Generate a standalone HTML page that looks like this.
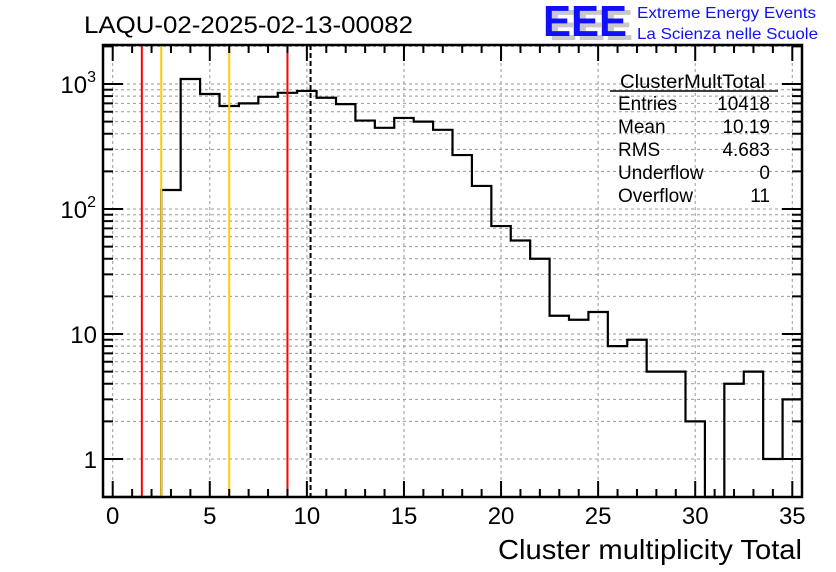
<!DOCTYPE html>
<html><head><meta charset="utf-8"><style>
html,body{margin:0;padding:0;background:#fff;}
svg{display:block;font-family:"Liberation Sans",sans-serif;}
</style></head><body>
<svg id="chart" width="836" height="572" viewBox="0 0 836 572" xmlns="http://www.w3.org/2000/svg">
<text x="84" y="33" font-size="24" textLength="329" lengthAdjust="spacingAndGlyphs">LAQU-02-2025-02-13-00082</text>
<g>
<text x="549" y="40" font-size="44" font-weight="bold" fill="#c8c8c8" textLength="84" lengthAdjust="spacingAndGlyphs">EEE</text>
<text x="543" y="36" font-size="44" font-weight="bold" fill="#1010ff" textLength="84" lengthAdjust="spacingAndGlyphs">EEE</text>
<text x="637" y="18" font-size="16" fill="#1010ff" textLength="179" lengthAdjust="spacingAndGlyphs">Extreme Energy Events</text>
<text x="637" y="39" font-size="16" fill="#1010ff" textLength="181" lengthAdjust="spacingAndGlyphs">La Scienza nelle Scuole</text>
</g>
<g id="grid"></g>
<g id="marks"></g>
<g id="axes"></g>
<g font-size="19">
<text x="620" y="88" textLength="145" lengthAdjust="spacingAndGlyphs">ClusterMultTotal</text>
<line x1="610" y1="91" x2="778" y2="91" stroke="#000" stroke-width="1.5"/>
<text x="618" y="110">Entries</text><text x="770" y="110" text-anchor="end">10418</text>
<text x="618" y="133">Mean</text><text x="770" y="133" text-anchor="end">10.19</text>
<text x="618" y="156">RMS</text><text x="770" y="156" text-anchor="end">4.683</text>
<text x="618" y="179">Underflow</text><text x="770" y="179" text-anchor="end">0</text>
<text x="618" y="202">Overflow</text><text x="770" y="202" text-anchor="end">11</text>
</g>
<text x="498" y="559" font-size="28" textLength="304" lengthAdjust="spacingAndGlyphs">Cluster multiplicity Total</text>
</svg>
<script>
const binCenters=[0,1,2,3,4,5,6,7,8,9,10,11,12,13,14,15,16,17,18,19,20,21,22,23,24,25,26,27,28,29,30,31,32,33,34,35];
const binCounts=[0,0,0,142,1096,832,667,700,790,850,880,776,690,510,446,535,500,430,270,153,73,56,40,14,13,15,8,9,5,5,2,0,4,5,1,3];
const xTicks=[0,5,10,15,20,25,30,35];
const yTickLabels=["1","10","10^2","10^3"];
const redLines=[1.5,9];
const orangeLines=[2.5,6];
const meanLine=[10.19];
const X0=-0.5,X1=35.5,L=103,R=802,T=45,B=497;
const x=v=>L+(v-X0)/(X1-X0)*(R-L);
const y=v=>459-Math.log10(v)*125;
const NS="http://www.w3.org/2000/svg";
function mk(p,t,a){const e=document.createElementNS(NS,t);for(const k in a)e.setAttribute(k,a[k]);p.appendChild(e);return e;}
const grid=document.getElementById('grid'),marks=document.getElementById('marks'),axes=document.getElementById('axes');
xTicks.forEach(t=>{const e=mk(grid,'line',{x1:x(t),x2:x(t),y1:T,y2:B,stroke:'#999','stroke-dasharray':'3,3','stroke-width':1});

});
for(let d=0;d<4;d++)for(let m=1;m<10;m++){const v=m*Math.pow(10,d);const yy=y(v);if(yy<T||yy>B)continue;
const e=mk(grid,'line',{x1:L,x2:R,y1:yy,y2:yy,stroke:'#999','stroke-dasharray':'3,3','stroke-width':1});


const tl=m===1?20:10;
const t1=mk(axes,'line',{x1:L,x2:L+tl,y1:yy,y2:yy,stroke:'#000','stroke-width':2});


const t2=mk(axes,'line',{x1:R-tl,x2:R,y1:yy,y2:yy,stroke:'#000','stroke-width':2});

}
const floorY=B;const hv=v=>v>0?y(v):floorY;
let d=`M${x(binCenters[0]-0.5)},${hv(binCounts[0])}`;
binCenters.forEach((c,i)=>{d+=` L${x(c-0.5)},${hv(binCounts[i])} L${x(c+0.5)},${hv(binCounts[i])}`;});
const h=mk(marks,'path',{d:d,fill:'none',stroke:'#000','stroke-width':2.2});


redLines.forEach(v=>{const e=mk(marks,'line',{x1:x(v),x2:x(v),y1:T,y2:B,stroke:'#ff0000','stroke-width':2});

});
orangeLines.forEach(v=>{const e=mk(marks,'line',{x1:x(v),x2:x(v),y1:T,y2:B,stroke:'#ffcc00','stroke-width':2});

});
meanLine.forEach(v=>{const e=mk(marks,'line',{x1:x(v),x2:x(v),y1:T,y2:B,stroke:'#000','stroke-width':2,'stroke-dasharray':'5,3'});

});
const f=mk(axes,'rect',{x:L,y:T,width:R-L,height:B-T,fill:'none',stroke:'#000','stroke-width':2.5});


for(let v=0;v<=35;v++){const big=v%5===0;const tl=big?16:8;
const a=mk(axes,'line',{x1:x(v),x2:x(v),y1:B-tl,y2:B,stroke:'#000','stroke-width':2});


const b=mk(axes,'line',{x1:x(v),x2:x(v),y1:T,y2:T+tl,stroke:'#000','stroke-width':2});

}
xTicks.forEach(t=>{const e=mk(axes,'text',{x:x(t),y:524,'font-size':24,'text-anchor':'middle'});e.textContent=t;

});
yTickLabels.forEach((lab,i)=>{const yy=y(Math.pow(10,i))+9;const e=mk(axes,'text',{x:97,y:yy,'font-size':24,'text-anchor':'end'});
if(lab.indexOf('^')>0){const p=lab.split('^');e.textContent=p[0];const s=mk(e,'tspan',{dy:-11,'font-size':16});s.textContent=p[1];e.setAttribute('x',96);}
else e.textContent=lab;

});
</script>
</body></html>
